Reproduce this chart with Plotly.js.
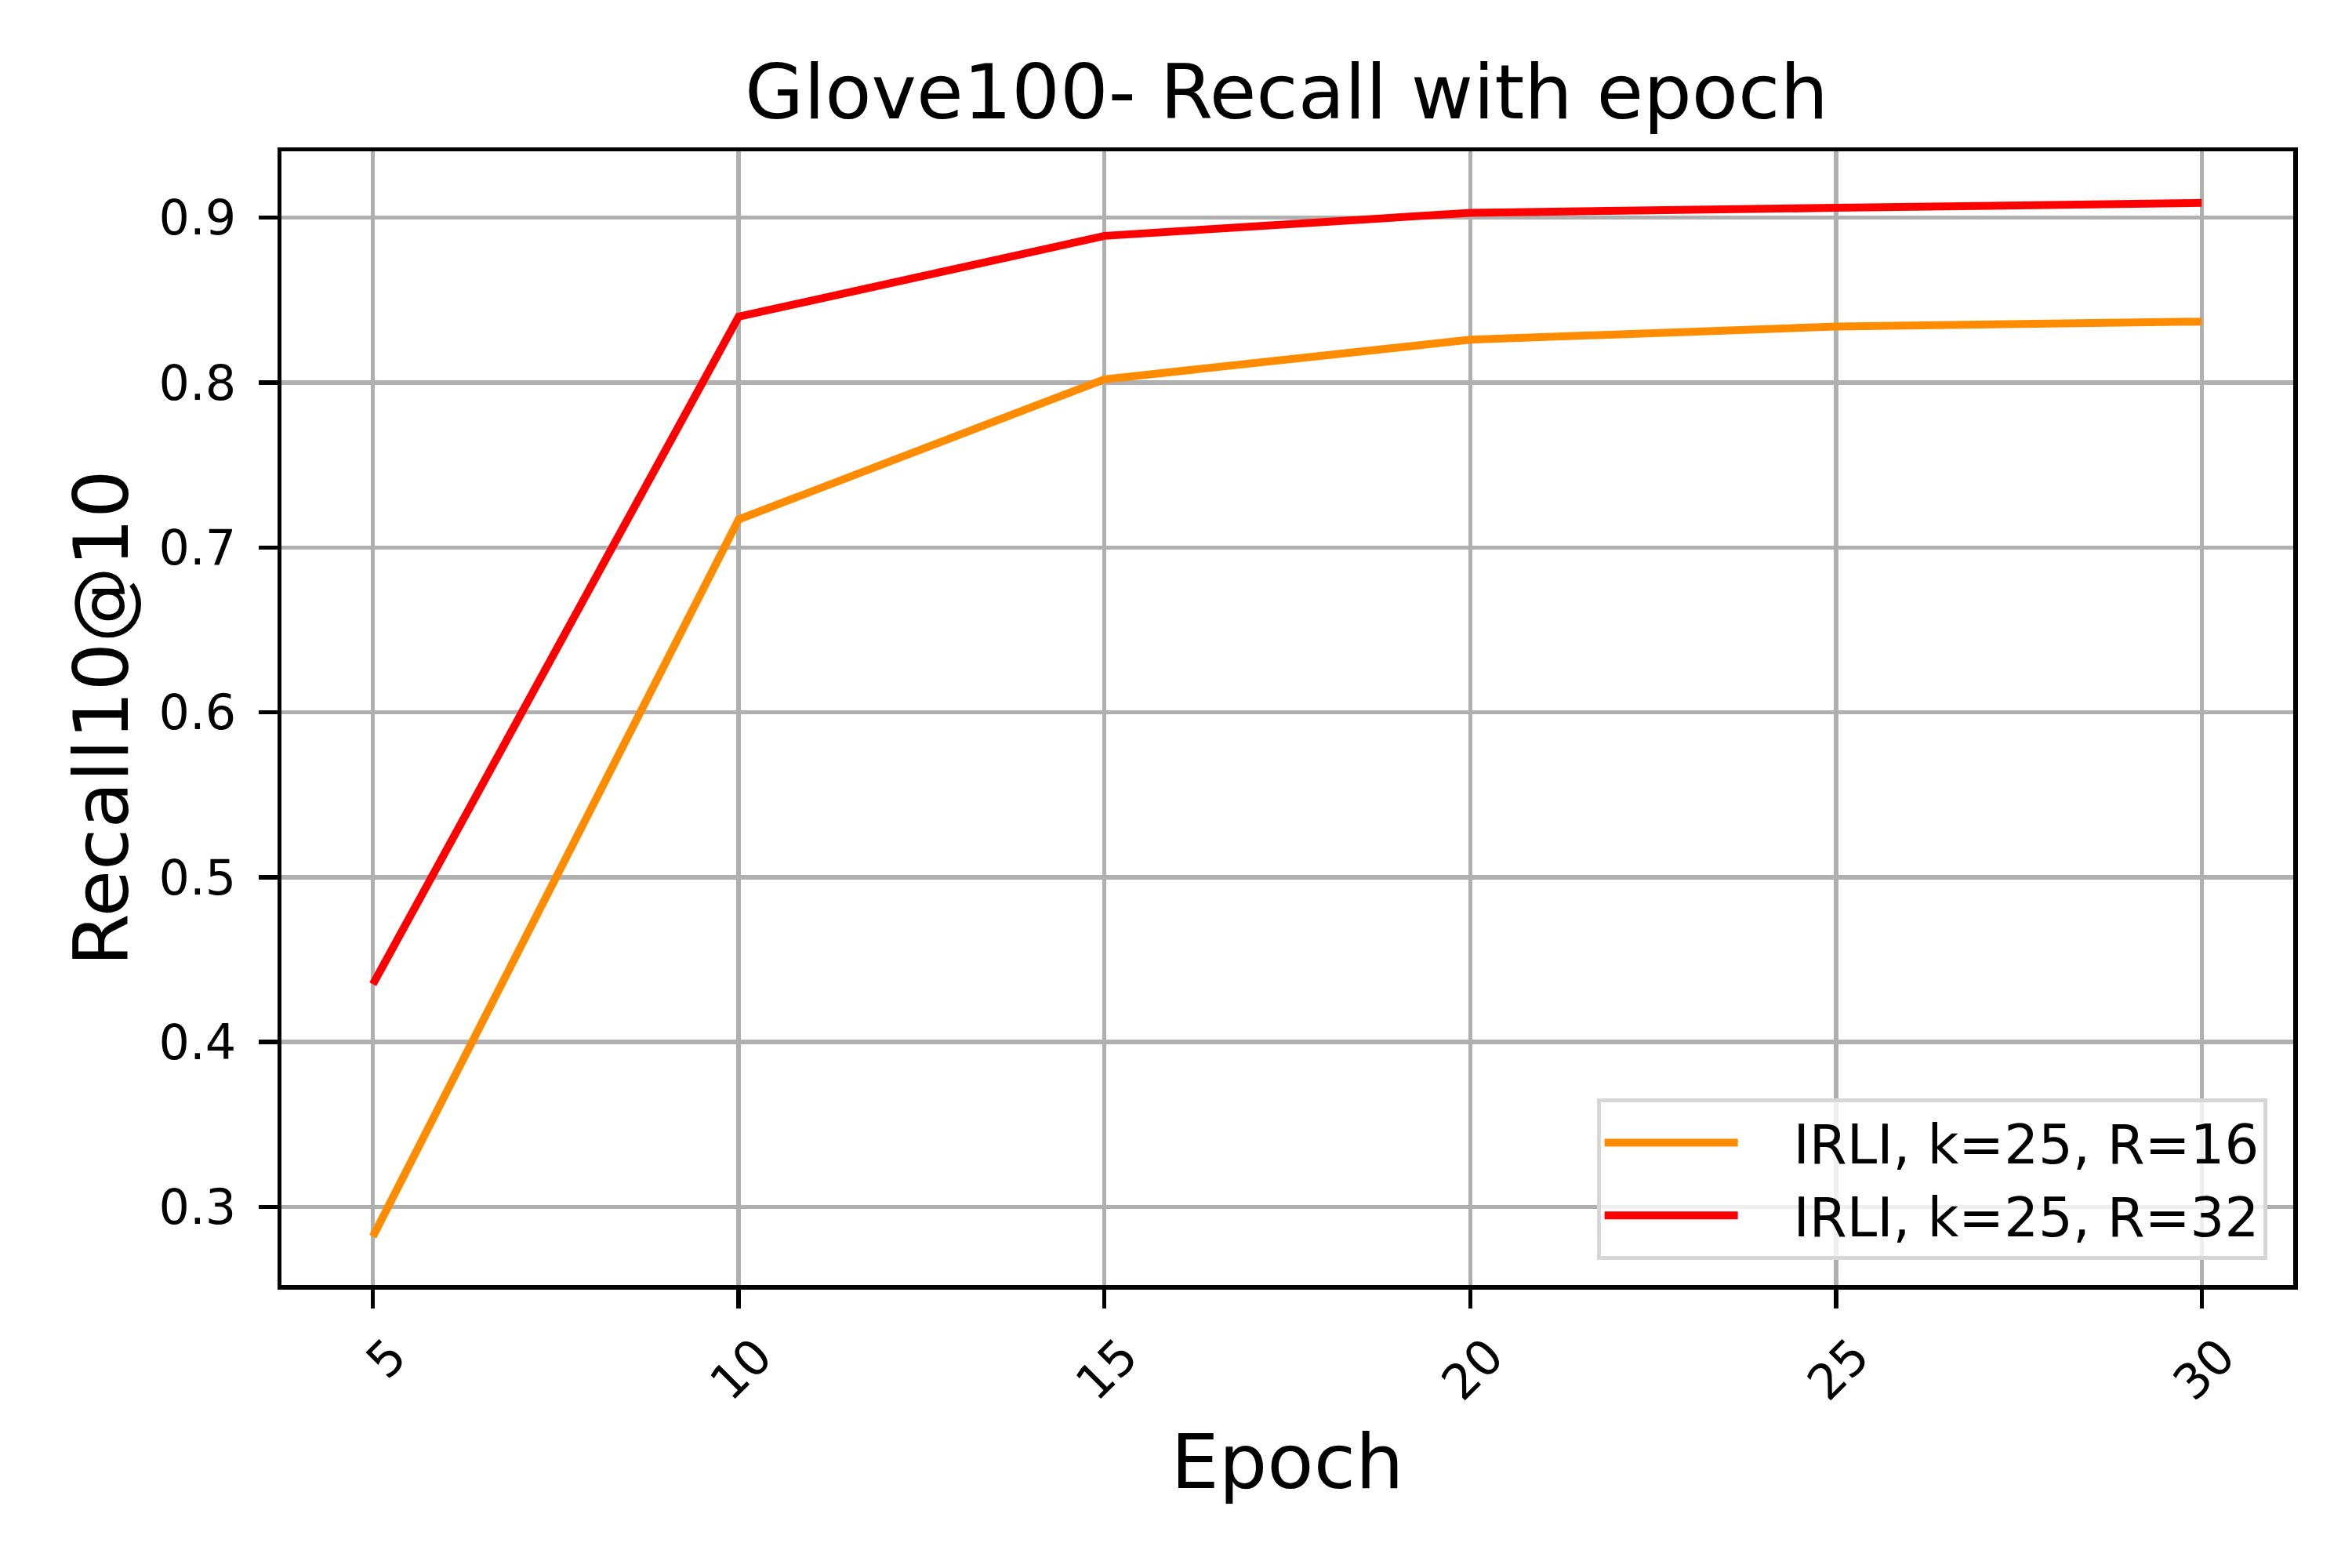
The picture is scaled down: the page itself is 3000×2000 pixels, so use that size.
<!DOCTYPE html>
<html>
<head>
<meta charset="utf-8">
<script src="https://cdn.plot.ly/plotly-3.0.1.min.js"></script>
<style>
  body { margin: 0; background: #fff; }
  #chart { width: 3000px; height: 2000px; }
</style>
</head>
<body>
<div id="chart"></div>
<script>
let chart = document.getElementById('chart');

// data
let epochs = [5, 10, 15, 20, 25, 30];
let recallR16 = [0.282, 0.717, 0.802, 0.826, 0.834, 0.837];
let recallR32 = [0.435, 0.840, 0.889, 0.903, 0.906, 0.909];
let seriesNames = ['IRLI, k=25, R=16', 'IRLI, k=25, R=32'];
let yTicks = [0.3, 0.4, 0.5, 0.6, 0.7, 0.8, 0.9];

let font = 'DejaVu Sans, sans-serif';
// small gap between the legend line and its label
let gap = '\u00a0\u00a0\u00a0';

// Trace 1
let trace1 = {
    type: 'scatter',
    mode: 'lines',
    name: gap + seriesNames[0],
    x: epochs,
    y: recallR16,
    line: { color: '#ff8c00', width: 10 },
};

// Trace 2
let trace2 = {
    type: 'scatter',
    mode: 'lines',
    name: gap + seriesNames[1],
    x: epochs,
    y: recallR32,
    line: { color: '#ff0000', width: 10 },
};

let data = [trace1, trace2];

let axisStyle = {
    showline: true,
    mirror: true,
    linecolor: '#000',
    linewidth: 5.5,
    showgrid: true,
    gridcolor: '#b0b0b0',
    gridwidth: 5.5,
    zeroline: false,
    ticks: 'outside',
    ticklen: 24,
    tickwidth: 5.5,
    tickcolor: '#000',
    tickfont: { family: font, size: 62, color: '#000' },
};

let layout = {
    width: 3000,
    height: 2000,
    margin: { l: 359, r: 75, t: 193, b: 361 },
    paper_bgcolor: '#fff',
    plot_bgcolor: '#fff',
    showlegend: true,
    title: {
        text: 'Glove100- Recall with epoch',
        font: { family: font, size: 97, color: '#000' },
        x: 0.547,
        xanchor: 'center',
        y: 0.9415,
        yanchor: 'middle',
    },
    xaxis: Object.assign({}, axisStyle, {
        range: [3.75, 31.25],
        tickvals: epochs,
        ticktext: epochs.map(String),
        tickangle: -45,
        ticklabelstandoff: 0,
        ticklabelshift: 24,
        title: { text: 'Epoch', font: { family: font, size: 97, color: '#000' }, standoff: 33 },
    }),
    yaxis: Object.assign({}, axisStyle, {
        range: [0.2526, 0.9403],
        tickvals: yTicks,
        ticktext: yTicks.map(v => v.toFixed(1)),
        ticklabelstandoff: 16,
        title: { text: 'Recall10@10', font: { family: font, size: 97, color: '#000' }, standoff: 8 },
    }),
    legend: {
        x: 0.987,
        xanchor: 'right',
        y: 0.022,
        yanchor: 'bottom',
        bgcolor: 'rgba(255,255,255,0.8)',
        bordercolor: '#d6d6d6',
        borderwidth: 5,
        font: { family: font, size: 69, color: '#000' },
        itemwidth: 170,
    },
};

Plotly.newPlot(chart, data, layout, { staticPlot: true });
</script>
</body>
</html>
